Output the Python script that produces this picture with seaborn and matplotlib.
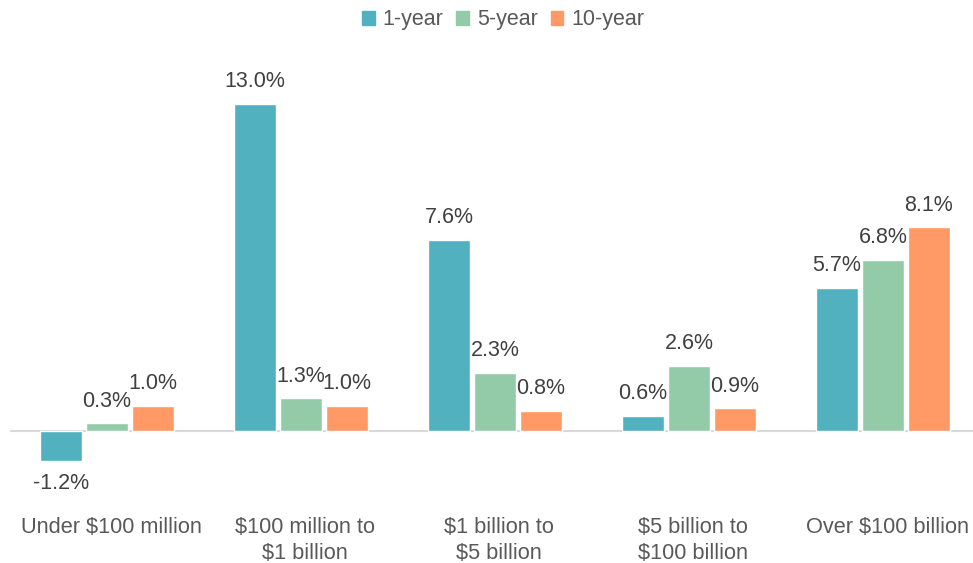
import matplotlib.pyplot as plt
import matplotlib.transforms as mtransforms
import pandas as pd
import seaborn as sns
from matplotlib.patches import Patch

sns.set_style('white')
plt.rcParams['font.family'] = ['Liberation Sans', 'DejaVu Sans']

categories = ['Under $100 million', '$100 million to\n$1 billion', '$1 billion to\n$5 billion',
              '$5 billion to\n$100 billion', 'Over $100 billion']
periods = ['1-year', '5-year', '10-year']
one_year = [-1.2, 13.0, 7.6, 0.6, 5.7]
five_year = [0.3, 1.3, 2.3, 2.6, 6.8]
ten_year = [1.0, 1.0, 0.8, 0.9, 8.1]
colors = ['#52B1BE', '#93CBA8', '#FF9966']

# long format for seaborn
df = pd.DataFrame({
    'category': categories * 3,
    'period': [p for p in periods for _ in categories],
    'value': one_year + five_year + ten_year,
})

fig = plt.figure(figsize=(9.73, 5.63), dpi=100)
ax = fig.add_axes([10 / 973, 0.1451, 970 / 973, 0.737])

sns.barplot(data=df, x='category', y='value', hue='period', hue_order=periods,
            palette=colors, width=0.71, gap=0.09, saturation=1, legend=False, ax=ax)

for cont in ax.containers:
    ax.bar_label(cont, labels=[f'{v:.1f}%' for v in cont.datavalues], padding=8.5,
                 fontsize=15.5, color='#404040')

ax.axhline(0, color='#D9D9D9', lw=1.5, zorder=0)
ax.set_xlim(-0.5, 4.5)
ax.set_ylim(-2, 14.5)
ax.set_xlabel('')
ax.set_ylabel('')
ax.set_yticks([])
ax.tick_params(axis='x', length=0, pad=26, labelsize=15.7, labelcolor='#595959')
shift = mtransforms.ScaledTranslation(4 / 100, 0, fig.dpi_scale_trans)
for lbl in ax.get_xticklabels():
    lbl.set_linespacing(1.3)
    lbl.set_transform(lbl.get_transform() + shift)
sns.despine(ax=ax, left=True, bottom=True)

handles = [Patch(color=c, label=p) for c, p in zip(colors, periods)]
fig.legend(handles=handles, loc='center', bbox_to_anchor=(503 / 973, 1 - 20 / 563), ncol=3,
           frameon=False, fontsize=15.5, handlelength=0.6, handleheight=0.6,
           handletextpad=0.35, columnspacing=0.6, labelcolor='#595959')

fig.savefig('out.png', dpi=100)
